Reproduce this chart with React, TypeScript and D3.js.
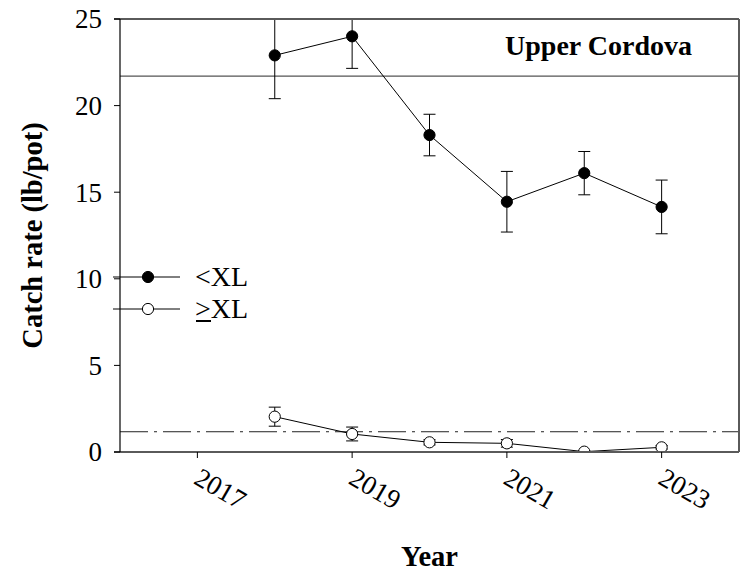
import React from "react";
import * as d3 from "d3";

const years = [2018, 2019, 2020, 2021, 2022, 2023];
const smallMean = [22.9, 24.0, 18.3, 14.45, 16.1, 14.15];
const smallErr = [2.5, 1.85, 1.2, 1.75, 1.25, 1.55];
const largeMean = [2.04, 1.04, 0.56, 0.5, 0.02, 0.27];
const largeErr = [0.55, 0.4, 0.15, 0.22, 0.05, 0.1];
const yTicks = [0, 5, 10, 15, 20, 25];
const xTicks = [2017, 2019, 2021, 2023];
const upperRef = 21.7;
const lowerRef = 1.17;

const W = 741;
const H = 581;
const L = 120;
const R = 739;
const T = 19;
const B = 452;
const FONT = '"Liberation Serif", "DejaVu Serif", serif';
const txt = { fontFamily: FONT };

export default function App() {
  const x = d3.scaleLinear().domain([2016, 2024]).range([L, R]);
  const y = d3.scaleLinear().domain([0, 25]).range([B, T]);
  const line = d3
    .line<number>()
    .x((_, i) => x(years[i]))
    .y((d) => y(d));

  const series = [
    { mean: smallMean, err: smallErr, fill: "#000" },
    { mean: largeMean, err: largeErr, fill: "#fff" },
  ];

  return (
    <svg
      width={W}
      height={H}
      style={{ position: "absolute", left: 0, top: 0, background: "#fff", fontFamily: FONT }}
    >
      <defs>
        <clipPath id="plotclip">
          <rect x={L} y={T} width={R - L} height={B - T} />
        </clipPath>
      </defs>

      {/* reference lines */}
      <line x1={L} x2={R} y1={y(upperRef)} y2={y(upperRef)} stroke="#555" strokeWidth={1.2} />
      <line
        x1={L}
        x2={R}
        y1={y(lowerRef)}
        y2={y(lowerRef)}
        stroke="#222"
        strokeWidth={1}
        strokeDasharray="28 6 3 6"
      />

      {/* series */}
      <g clipPath="url(#plotclip)">
        {series.map((s, si) => (
          <g key={si}>
            <path d={line(s.mean) || ""} fill="none" stroke="#000" strokeWidth={1} />
            {s.mean.map((m, i) => {
              const cx = x(years[i]);
              const top = y(m + s.err[i]);
              const bot = y(m - s.err[i]);
              return (
                <g key={i} stroke="#000" strokeWidth={1}>
                  <line x1={cx} x2={cx} y1={top} y2={bot} />
                  <line x1={cx - 6} x2={cx + 6} y1={top} y2={top} />
                  <line x1={cx - 6} x2={cx + 6} y1={bot} y2={bot} />
                </g>
              );
            })}
            {s.mean.map((m, i) => (
              <circle
                key={"c" + i}
                cx={x(years[i])}
                cy={y(m)}
                r={5.6}
                fill={s.fill}
                stroke="#000"
                strokeWidth={1}
              />
            ))}
          </g>
        ))}
      </g>

      {/* frame */}
      <line x1={L - 6} x2={R} y1={T} y2={T} stroke="#5a5a5a" strokeWidth={2} />
      <line x1={R} x2={R} y1={T} y2={B} stroke="#5a5a5a" strokeWidth={2} />
      <line x1={L - 6} x2={R} y1={B} y2={B} stroke="#5a5a5a" strokeWidth={2} />
      <line x1={L} x2={L} y1={T} y2={B} stroke="#000" strokeWidth={1.2} />

      {/* y axis ticks */}
      {yTicks.map((t) => (
        <g key={t}>
          <line x1={L - 6} x2={L} y1={y(t)} y2={y(t)} stroke="#000" strokeWidth={1} />
          <text x={102} y={y(t)} dy="0.35em" textAnchor="end" fontSize={27} fill="#000" style={txt}>
            {t}
          </text>
        </g>
      ))}

      {/* x axis ticks */}
      {xTicks.map((t) => (
        <g key={t}>
          <line x1={x(t)} x2={x(t)} y1={B} y2={B + 6} stroke="#000" strokeWidth={1} />
          <text
            transform={`translate(${x(t) - 5},${B + 31}) rotate(30)`}
            textAnchor="start"
            fontSize={27}
            fill="#000"
            style={txt}
          >
            {t}
          </text>
        </g>
      ))}

      {/* axis titles */}
      <text
        transform={`translate(42,${(T + B) / 2}) rotate(-90)`}
        textAnchor="middle"
        fontSize={28.5}
        fontWeight="bold"
        fill="#000"
        style={txt}
      >
        Catch rate (lb/pot)
      </text>
      <text x={(L + R) / 2} y={566} textAnchor="middle" fontSize={28.5} fontWeight="bold" fill="#000" style={txt}>
        Year
      </text>
      <text x={692} y={55} textAnchor="end" fontSize={28} fontWeight="bold" fill="#000" style={txt}>
        Upper Cordova
      </text>

      {/* legend */}
      <g>
        <line x1={113} x2={180} y1={277} y2={277} stroke="#000" strokeWidth={1} />
        <circle cx={148} cy={277} r={5.6} fill="#000" stroke="#000" />
        <text x={195} y={286} fontSize={28} fill="#000" style={txt}>
          {"<XL"}
        </text>
        <line x1={113} x2={180} y1={309} y2={309} stroke="#000" strokeWidth={1} />
        <circle cx={148} cy={309} r={5.6} fill="#fff" stroke="#000" />
        <text x={195} y={318} fontSize={28} fill="#000" style={txt}>
          {">XL"}
        </text>
        <rect x={196} y={320} width={15} height={2} fill="#000" />
      </g>
    </svg>
  );
}
